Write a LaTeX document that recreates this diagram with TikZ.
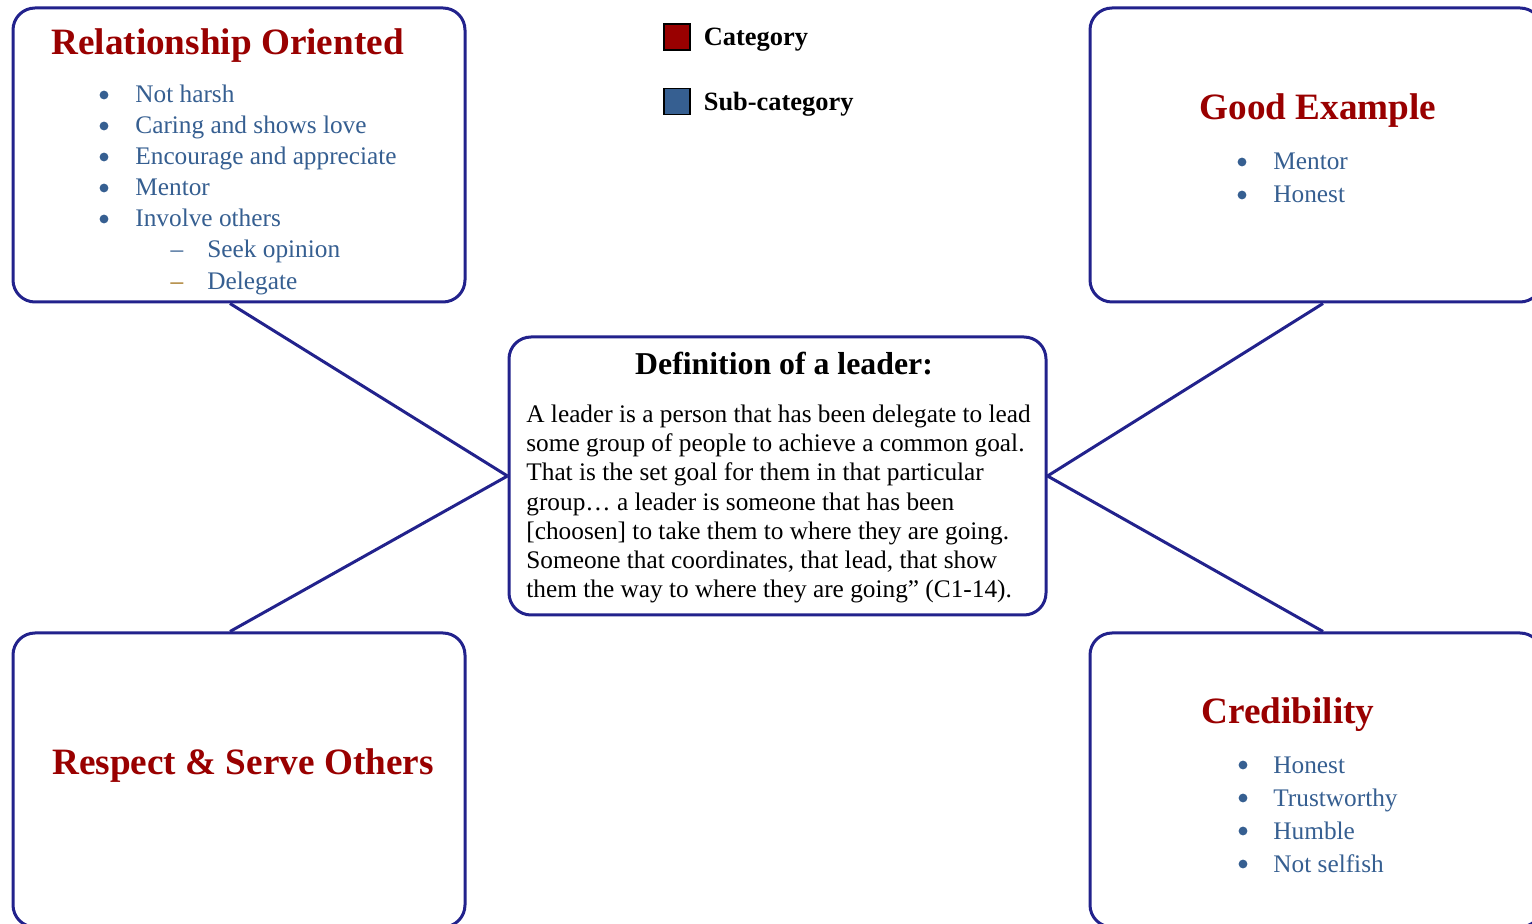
\documentclass[tikz,border=0pt]{standalone}
\usepackage{fontspec}
\setmainfont{Liberation Serif}
\usetikzlibrary{positioning,calc}

\definecolor{boxblue}{RGB}{34,34,140}
\definecolor{catred}{RGB}{153,0,0}
\definecolor{subblue}{RGB}{54,95,145}
\definecolor{dashbrown}{RGB}{160,110,20}

\begin{document}
\begin{tikzpicture}[x=0.5pt,y=-0.5pt,
    box/.style={draw=boxblue,line width=1.5pt,rounded corners=11pt,fill=white,
      minimum width=226pt,minimum height=147pt,inner sep=0pt},
    link/.style={draw=boxblue,line width=1.5pt},
    cat/.style={text=catred,anchor=base,font=\fontsize{18.6}{22}\selectfont\bfseries},
    sub/.style={text=subblue,anchor=base west,inner sep=0pt,font=\fontsize{12.65}{15}\selectfont},
    dot/.style={circle,fill=subblue,inner sep=0pt,minimum size=4.4pt},
    dashmark/.style={text=subblue,anchor=base,font=\fontsize{12.65}{15}\selectfont},
    key/.style={draw=black,line width=0.8pt,minimum size=13pt,inner sep=0pt},
    keytext/.style={font=\fontsize{13.2}{16}\selectfont\bfseries}]
    \useasboundingbox (0,0) rectangle (1532,924);

    % boxes
    \node[box] (RO) at (239,155) {};
    \node[box] (GE) at (1316,155) {};
    \node[box] (RS) at (239,780) {};
    \node[box] (CR) at (1316,780) {};
    \node[box,minimum width=268.5pt,minimum height=139pt] (D) at (777.5,476) {};

    \path[link] ([xshift=-4.5pt]RO.south) -- (D.west)
                ([xshift=-4.5pt]RS.north) -- (D.west)
                ([xshift=3.5pt]GE.south) -- (D.east)
                ([xshift=3.5pt]CR.north) -- (D.east);

    % legend
    \node[key,fill=catred] (KC) at (677,37) {};
    \node[keytext] (KCt) [right=3pt of KC,yshift=-1.5pt] {Category};
    \node[key,fill=subblue] (KS) at (677,101.5) {};
    \node[keytext] (KSt) [right=3pt of KS,yshift=-1.5pt] {Sub-category};

    % relationship oriented
    \node[cat] (ROt) at (227.5,55) {Relationship Oriented};
    \foreach \t [count=\i] in {Not harsh,Caring and shows love,Encourage and appreciate,Mentor,Involve others} {
      \node[dot] (ROb\i) at (104,64+31*\i) {};
      \node[sub] (RO\i) at (135,72+31*\i) {\t};
    }
    \node[dashmark] (ROd1) at (177,258) {–};
    \node[sub] (ROs1) at (207,258) {Seek opinion};
    \node[dashmark,text=dashbrown] (ROd2) at (177,290) {–};
    \node[sub] (ROs2) at (207,290) {Delegate};

    % good example
    \node[cat] (GEt) at (1318,120) {Good Example};
    \foreach \t [count=\i] in {Mentor,Honest} {
      \node[dot] (GEb\i) at (1242,129+33*\i) {};
      \node[sub] (GE\i) at (1273,137+33*\i) {\t};
    }

    % respect
    \node[cat] (RSt) at (243,775) {Respect \& Serve Others};

    % credibility
    \node[cat] (CRt) at (1288,724) {Credibility};
    \foreach \t [count=\i] in {Honest,Trustworthy,Humble,Not selfish} {
      \node[dot] (CRb\i) at (1243,732+33*\i) {};
      \node[sub] (CR\i) at (1273,740+33*\i) {\t};
    }

    % definition
    \node[anchor=base,font=\fontsize{15.9}{19}\selectfont\bfseries] (Dt) at (784,375) {Definition of a leader:};
    \node[anchor=base west,align=left,inner sep=0pt,font=\fontsize{12.65}{14.65}\selectfont] (Dx) at (526,598)
      {A leader is a person that has been delegate to lead\\
       some group of people to achieve a common goal.\\
       That is the set goal for them in that particular\\
       group\dots\ a leader is someone that has been\\
       {[}choosen] to take them to where they are going.\\
       Someone that coordinates, that lead, that show\\
       them the way to where they are going'' (C1-14).};

\end{tikzpicture}
\end{document}
